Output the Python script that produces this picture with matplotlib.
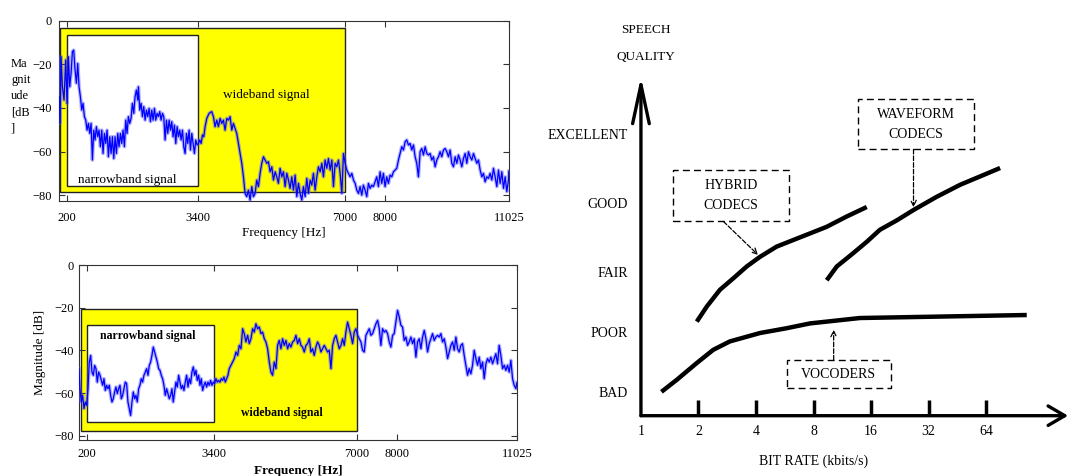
import matplotlib.pyplot as plt
from matplotlib.patches import Rectangle

plt.rcParams['font.family'] = ['Liberation Serif', 'DejaVu Serif']

# --- magnitude spectrum, upper plot (Hz, dB) ---
freq_top = [5, 29, 54, 87, 127, 168, 201, 235, 266, 299, 332, 364, 397, 430, 462, 495, 528, 561, 593, 626,
            659, 691, 724, 757, 789, 822, 855, 887, 920, 953, 985, 1018, 1051, 1083, 1116, 1149, 1181, 1214, 1247, 1279,
            1312, 1345, 1377, 1410, 1443, 1475, 1508, 1541, 1573, 1606, 1639, 1671, 1704, 1737, 1769, 1802, 1835, 1867, 1900, 1933,
            1949, 1982, 2015, 2047, 2080, 2113, 2146, 2178, 2211, 2244, 2276, 2309, 2342, 2374, 2407, 2440, 2472, 2505, 2538, 2570,
            2603, 2636, 2668, 2701, 2734, 2766, 2799, 2832, 2864, 2897, 2930, 2962, 2995, 3028, 3060, 3093, 3126, 3158, 3191, 3224,
            3256, 3289, 3322, 3354, 3387, 3420, 3452, 3485, 3518, 3550, 3583, 3624, 3681,
            3745, 3786, 3827, 3868, 3909, 3950, 3991, 4031, 4072, 4113, 4154, 4195, 4236, 4276, 4317, 4358, 4399, 4440, 4481, 4522,
            4562, 4603, 4644, 4685, 4726, 4767, 4808, 4848, 4889, 4930, 4971, 5012, 5053, 5093, 5134, 5175, 5216, 5257, 5298, 5339,
            5379, 5420, 5461, 5502, 5543, 5584, 5625, 5665, 5706, 5747, 5788, 5829, 5870, 5910, 5951, 5992, 6033, 6074, 6115, 6156,
            6196, 6237, 6278, 6319, 6360, 6401, 6442, 6482, 6523, 6564, 6605, 6646, 6687, 6727, 6768, 6809, 6850, 6891, 6932, 6973,
            7013, 7054, 7095, 7136, 7177, 7218, 7259, 7299, 7340,
            7380, 7420, 7461, 7502, 7543, 7584, 7625, 7666, 7706, 7747, 7788, 7829, 7870, 7911, 7951, 7992, 8033, 8074, 8115, 8156,
            8197, 8237, 8278, 8319, 8360, 8401, 8442, 8483, 8523, 8564, 8605, 8646, 8687, 8728, 8768, 8809, 8850, 8891, 8932, 8973,
            9014, 9054, 9095, 9136, 9177, 9218, 9259, 9300, 9340, 9381, 9422, 9463, 9504, 9545, 9585, 9626, 9667, 9708, 9749, 9790,
            9831, 9871, 9912, 9953, 9994, 10035, 10076, 10117, 10157, 10198, 10239, 10280, 10321, 10362, 10402, 10443, 10484, 10525, 10566, 10607,
            10647, 10688, 10729, 10770, 10811, 10852, 10893, 10933, 10974, 11015, 11025]
mag_top = [-34.9, -47.1, -16.5, -30.3, -36.4, -18.0, -37.9, -16.5, -30.3, -24.2, -14.2, -13.5, -22.6, -28.7, -19.6, -30.3, -34.9, -41.0, -37.9, -44.0,
           -45.6, -50.2, -47.1, -51.7, -47.1, -63.9, -50.2, -54.7, -48.6, -53.2, -50.2, -57.8, -50.2, -60.9, -51.7, -56.3, -50.2, -62.4, -53.2, -60.9,
           -53.2, -63.2, -53.2, -60.9, -51.7, -57.8, -51.7, -56.3, -50.2, -57.8, -45.6, -51.7, -44.0, -47.1, -44.8, -37.9, -42.5, -34.9, -31.8, -36.4,
           -30.3, -41.0, -37.9, -44.0, -39.4, -45.6, -41.0, -44.0, -40.2, -46.3, -41.0, -45.6, -40.2, -45.6, -42.5, -44.0, -41.7, -45.6, -42.5, -44.0,
           -54.7, -45.6, -51.7, -45.6, -50.2, -46.3, -53.2, -47.9, -56.3, -48.6, -53.2, -50.2, -54.7, -50.2, -57.8, -60.9, -51.7, -56.3, -50.2, -59.3,
           -51.7, -56.3, -60.9, -54.7, -57.0, -56.3, -54.7, -56.3, -52.4, -53.2, -48.6, -44.8, -42.5,
           -41.7, -44.0, -48.6, -45.6, -48.6, -44.8, -47.1, -45.6, -50.2, -44.8, -45.6, -44.0, -50.2, -47.1, -49.4, -51.7, -56.3, -60.9, -65.4, -71.6,
           -79.2, -80.7, -77.7, -82.3, -76.1, -80.7, -79.2, -73.1, -76.1, -70.0, -65.4, -62.4, -63.9, -65.4, -64.7, -69.3, -67.0, -73.1, -69.3, -71.6,
           -74.6, -67.7, -71.6, -69.3, -76.1, -70.0, -73.1, -76.9, -71.6, -77.7, -70.8, -80.7, -74.6, -79.2, -82.3, -76.1, -80.7, -72.3, -79.2, -73.1,
           -75.4, -70.0, -77.7, -71.6, -67.0, -69.3, -65.4, -71.6, -63.9, -67.7, -63.2, -68.5, -63.9, -76.1, -65.4, -67.0, -63.9, -70.0, -79.2, -60.9,
           -65.4, -68.5, -70.0, -71.6, -70.0, -73.1, -74.6, -77.7, -79.2,
           -76.1, -80.0, -75.4, -77.7, -80.7, -74.6, -76.9, -75.4, -76.1, -73.9, -71.6, -76.1, -69.3, -74.6, -70.0, -76.1, -71.6, -74.6, -70.8, -71.6,
           -69.3, -68.5, -67.7, -63.9, -60.9, -57.8, -59.3, -55.5, -54.7, -57.0, -56.3, -59.3, -57.0, -62.4, -65.4, -71.6, -60.1, -58.6, -61.6, -57.8,
           -60.9, -61.6, -60.9, -63.9, -62.4, -67.0, -63.9, -62.4, -60.1, -62.4, -59.3, -58.6, -60.1, -62.4, -59.3, -65.4, -67.0, -62.4, -65.4, -61.6,
           -63.9, -67.0, -63.2, -60.9, -65.4, -60.1, -62.4, -63.9, -60.9, -63.2, -65.4, -63.9, -68.5, -71.6, -70.0, -73.9, -71.6, -72.3, -70.0, -73.1,
           -67.7, -71.6, -76.1, -68.5, -74.6, -69.3, -76.9, -71.6, -78.4, -73.1, -69.0]

# --- magnitude spectrum, lower plot (Hz, dB) ---
freq_bot = [0, 25, 59, 92, 126, 159, 193, 227, 260, 294, 327, 361, 394, 428, 461, 495, 529, 562, 596, 629,
            663, 696, 730, 763, 797, 831, 864, 898, 931, 965, 998, 1032, 1066, 1099, 1133, 1166, 1200, 1233, 1267, 1300,
            1334, 1368, 1401, 1435, 1468, 1502, 1535, 1569, 1602, 1636, 1670, 1703, 1737, 1770, 1804, 1837, 1871, 1905, 1938, 1972,
            2005, 2039, 2072, 2106, 2139, 2173, 2207, 2240, 2274, 2307, 2341, 2374, 2408, 2441, 2475, 2509, 2542, 2576, 2609, 2643,
            2676, 2710, 2744, 2777, 2811, 2844, 2878, 2911, 2945, 2978, 3012, 3046, 3079, 3113, 3146, 3180, 3213, 3247, 3280, 3314,
            3348, 3381, 3415, 3448, 3482, 3515, 3549, 3583, 3616, 3650, 3683, 3717, 3750, 3784,
            3826, 3868, 3910, 3952, 3994, 4036, 4078, 4120, 4161, 4203, 4245, 4287, 4329, 4371, 4413, 4455, 4497, 4539, 4581, 4623,
            4665, 4707, 4749, 4791, 4833, 4875, 4917, 4959, 5000, 5042, 5084, 5126, 5168, 5210, 5252, 5294, 5336, 5378, 5420, 5462,
            5504, 5546, 5588, 5630, 5672, 5714, 5756, 5798, 5839, 5881, 5923, 5965, 6007, 6049, 6091, 6133, 6175, 6217, 6259, 6301,
            6343, 6385, 6427, 6469, 6511, 6553, 6595, 6637, 6678, 6720, 6762, 6804, 6846, 6888, 6930, 6972, 7014, 7056, 7098, 7140,
            7182, 7224, 7266, 7308, 7350, 7392, 7434, 7476, 7518, 7560,
            7601, 7643, 7685, 7727, 7769, 7811, 7853, 7895, 7936, 7978, 8020, 8062, 8104, 8146, 8188, 8230, 8272, 8314, 8356, 8398,
            8440, 8482, 8524, 8566, 8608, 8650, 8692, 8734, 8775, 8817, 8859, 8901, 8943, 8985, 9027, 9069, 9111, 9153, 9195, 9237,
            9279, 9321, 9363, 9405, 9447, 9489, 9531, 9573, 9614, 9656, 9698, 9740, 9782, 9824, 9866, 9908, 9950, 9992, 10034, 10076,
            10118, 10160, 10202, 10244, 10286, 10328, 10370, 10412, 10453, 10495, 10537, 10579, 10621, 10663, 10705, 10747, 10789, 10831, 10873, 10915,
            10957, 10999, 11025]
mag_bot = [-48.5, -57.9, -64.1, -61.0, -67.2, -64.1, -65.7, -57.9, -45.4, -42.3, -50.1, -51.6, -47.0, -48.5, -54.8, -50.1, -51.6, -54.0, -56.3, -53.2,
           -58.7, -56.3, -57.9, -56.3, -61.0, -64.1, -62.6, -59.4, -57.1, -60.2, -57.9, -56.3, -62.6, -61.0, -57.9, -54.8, -55.5, -64.1, -67.2, -70.4,
           -64.1, -59.4, -62.6, -61.0, -64.1, -57.9, -56.3, -53.2, -54.8, -51.6, -50.1, -48.5, -51.6, -47.0, -45.4, -42.3, -38.4, -40.7, -43.1, -45.4,
           -48.5, -49.3, -51.6, -53.2, -56.3, -61.0, -57.9, -60.2, -62.6, -61.0, -57.9, -64.1, -59.4, -54.8, -57.1, -51.6, -54.8, -57.9, -56.3, -58.7,
           -54.8, -51.6, -57.1, -53.2, -55.5, -50.1, -47.7, -51.6, -49.3, -54.0, -51.6, -56.3, -53.2, -58.7, -56.3, -54.8, -57.1, -54.8, -56.3, -54.0,
           -56.3, -54.8, -55.5, -53.2, -54.8, -54.0, -54.8, -53.2, -54.0, -52.4, -54.8, -53.2, -51.6, -48.5,
           -46.9, -45.4, -43.8, -40.7, -42.3, -37.6, -39.2, -29.8, -32.1, -36.0, -32.9, -36.8, -34.5, -29.8, -31.4, -27.5, -29.8, -29.0, -32.1, -31.4,
           -34.5, -36.0, -39.2, -45.4, -50.1, -51.6, -45.4, -48.5, -37.6, -35.3, -39.2, -34.5, -37.6, -35.3, -39.2, -36.8, -38.4, -36.0, -35.3, -32.9,
           -36.8, -34.5, -37.6, -38.4, -40.7, -37.6, -36.8, -34.5, -40.7, -39.2, -42.3, -38.4, -36.0, -37.6, -40.7, -39.2, -37.6, -39.2, -40.7, -39.9,
           -48.5, -37.6, -34.5, -32.9, -36.0, -39.2, -37.6, -34.5, -37.6, -31.4, -26.7, -29.8, -32.9, -36.8, -31.4, -29.8, -32.9, -34.5, -36.0, -39.9,
           -40.7, -32.9, -31.4, -29.8, -32.9, -32.1, -29.8, -27.5, -25.9, -29.8,
           -37.6, -29.8, -31.4, -30.6, -32.1, -36.0, -38.4, -32.9, -32.1, -26.7, -21.2, -24.3, -28.2, -29.0, -35.3, -33.7, -37.6, -36.0, -33.7, -36.8,
           -34.5, -43.1, -36.0, -34.5, -39.2, -33.7, -30.6, -34.5, -40.7, -36.8, -34.5, -32.1, -35.3, -33.7, -32.9, -33.7, -32.1, -36.0, -34.5, -38.4,
           -43.8, -40.7, -37.6, -36.0, -39.9, -33.7, -39.2, -40.7, -37.6, -36.8, -42.3, -46.9, -51.6, -48.5, -50.9, -46.9, -39.9, -43.8, -46.9, -43.1,
           -48.5, -45.4, -53.2, -46.2, -43.8, -45.4, -43.1, -46.2, -43.8, -41.5, -46.2, -37.6, -42.3, -48.5, -46.9, -49.3, -46.9, -50.1, -44.6, -53.2,
           -56.3, -57.9, -55.0]

freq_ticks = [200, 3400, 7000, 8000, 11025]
mag_ticks = [0, -20, -40, -60, -80]

# --- speech quality vs bit rate (kbit/s, quality score) ---
rate_ticks = [1, 2, 4, 8, 16, 32, 64]
quality_labels = ['BAD', 'POOR', 'FAIR', 'GOOD', 'EXCELLENT']
quality_pos = [1, 2, 3, 4.15, 5.3]

hybrid_rate = [1.96, 2.21, 2.59, 3.04, 3.58, 4.2, 5.13, 6.27, 7.67, 9.38, 11.9, 15.2]
hybrid_q = [2.19, 2.44, 2.72, 2.91, 3.11, 3.27, 3.44, 3.55, 3.66, 3.77, 3.94, 4.1]
waveform_rate = [9.38, 10.6, 12.9, 15.2, 17.8, 21.9, 26.7, 35.3, 46.8, 59.6, 75.8]
waveform_q = [2.88, 3.11, 3.33, 3.52, 3.72, 3.88, 4.05, 4.27, 4.47, 4.61, 4.75]
vocoder_rate = [1.28, 1.54, 1.96, 2.39, 2.92, 4.2, 5.79, 7.67, 14.0, 31.3, 104.5]
vocoder_q = [1.02, 1.22, 1.5, 1.72, 1.86, 2.0, 2.08, 2.16, 2.25, 2.27, 2.3]

blue = '#0000ff'
edge = '#333333'


def spectrum_axes(ax, freq, mag, ylo, wide_box, narrow_box):
    # yellow = wideband range, white = telephone band
    x0, x1, y0, y1 = wide_box
    ax.add_patch(Rectangle((x0, y0), x1 - x0, y1 - y0, fc='#ffff00', ec='#222222', lw=1.0, zorder=1))
    x0, x1, y0, y1 = narrow_box
    ax.add_patch(Rectangle((x0, y0), x1 - x0, y1 - y0, fc='white', ec='#222222', lw=1.0, zorder=2))
    ax.plot(freq, mag, color='#5555ff', lw=2.6, alpha=0.45, zorder=3)
    ax.plot(freq, mag, color=blue, lw=0.9, zorder=4)
    ax.set_xlim(0, 11025)
    ax.set_ylim(ylo, 0)
    ax.set_xticks(freq_ticks)
    ax.set_yticks(mag_ticks)
    ax.tick_params(direction='in', top=True, right=True, length=4, width=0.8,
                   color=edge, labelsize=9)
    for s in ax.spines.values():
        s.set_color(edge)
        s.set_linewidth(0.8)


fig = plt.figure(figsize=(10.7, 4.76), dpi=100)

# upper spectrum
ax1 = fig.add_axes([0.0550, 0.5777, 0.4206, 0.3788])
spectrum_axes(ax1, freq_top, mag_top, -82.7, (30, 7000, -78.6, -3.3), (200, 3400, -75.8, -6.6))
ax1.tick_params(axis='x', pad=8)
ax1.tick_params(axis='y', pad=5)
ax1.text(5076, -34.1, 'wideband signal', ha='center', va='center', fontsize=9.5, zorder=5)
ax1.text(1683, -73.1, 'narrowband signal', ha='center', va='center', fontsize=9.5, zorder=5)
ax1.set_xlabel('Frequency [Hz]', fontsize=9.5, labelpad=2)
fig.text(11 / 1070, 1 - 96 / 476, 'Ma\ngnit\nude\n[dB\n]', ha='left', va='center',
         fontsize=9, linespacing=1.45)

# lower spectrum
ax2 = fig.add_axes([0.0738, 0.0756, 0.4093, 0.3676])
spectrum_axes(ax2, freq_bot, mag_bot, -81.9, (50, 7000, -77.5, -20.6), (200, 3400, -73.5, -28.2))
ax2.tick_params(axis='x', pad=6)
ax2.tick_params(axis='y', pad=4)
ax2.text(1724, -33.2, 'narrowband signal', ha='center', va='center', fontsize=8.5,
         fontweight='bold', zorder=5)
ax2.text(5097, -69.2, 'wideband signal', ha='center', va='center', fontsize=8.5,
         fontweight='bold', zorder=5)
ax2.set_xlabel('Frequency [Hz]', fontsize=9.5, labelpad=3, fontweight='bold')
fig.text(40 / 1070, 1 - 352 / 476, 'Magnitude [dB]', rotation=90, ha='center', va='center',
         fontsize=9.5)

# quality / bit-rate sketch
ax3 = fig.add_axes([560 / 1070, 0, 510 / 1070, 1])
ax3.set_xscale('log', base=2)
ax3.set_xlim(0.377, 176)
ax3.set_ylim(-0.383, 7.55)
ax3.axis('off')

q0 = 0.622
ax3.annotate('', xy=(1, 6.27), xytext=(1, q0),
             arrowprops=dict(arrowstyle='->,head_length=1.4,head_width=0.3', lw=2.4,
                             color='black', mutation_scale=20, shrinkA=0, shrinkB=0))
ax3.annotate('', xy=(172, q0), xytext=(1, q0),
             arrowprops=dict(arrowstyle='->,head_length=0.6,head_width=0.35', lw=2.4,
                             color='black', mutation_scale=20, shrinkA=0, shrinkB=0))
ax3.vlines(rate_ticks[1:], q0, 0.883, color='black', lw=2.5)
for r in rate_ticks:
    ax3.text(r, 0.355, str(r), ha='center', va='center', fontsize=10)
for lab, q in zip(quality_labels, quality_pos):
    ax3.text(0.855, q, lab, ha='right', va='center', fontsize=10)
ax3.text(1.06, 7.05, 'SPEECH', ha='center', va='center', fontsize=9.5)
ax3.text(1.06, 6.6, 'QUALITY', ha='center', va='center', fontsize=9.5)
ax3.text(8, -0.145, 'BIT RATE (kbits/s)', ha='center', va='center', fontsize=10)

for r, q in [(hybrid_rate, hybrid_q), (waveform_rate, waveform_q), (vocoder_rate, vocoder_q)]:
    ax3.plot(r, q, color='black', lw=3.2, solid_capstyle='butt', solid_joinstyle='round')

# dashed label boxes with pointers onto the curves
boxes = [(1.476, 5.98, 3.86, 4.72, 'HYBRID\nCODECS'),
         (13.7, 55.6, 5.06, 5.9, 'WAVEFORM\nCODECS'),
         (5.79, 20.3, 1.08, 1.55, 'VOCODERS')]
for x0, x1, y0, y1, lab in boxes:
    ax3.add_patch(Rectangle((x0, y0), x1 - x0, y1 - y0, fill=False, ec='black',
                            lw=1.0, ls=(0, (5, 3))))
    ax3.text((x0 * x1) ** 0.5, (y0 + y1) / 2, lab, ha='center', va='center',
             fontsize=10, linespacing=1.7)

pointer = dict(arrowstyle='->,head_length=0.4,head_width=0.2', lw=0.9, ls='--',
               color='black', shrinkA=0, shrinkB=2)
ax3.annotate('', xy=(hybrid_rate[5], hybrid_q[5]), xytext=(2.70, 3.86), arrowprops=pointer)
ax3.annotate('', xy=(waveform_rate[6], waveform_q[6]), xytext=(waveform_rate[6], 5.06), arrowprops=pointer)
ax3.annotate('', xy=(10.2, 2.1), xytext=(10.2, 1.55), arrowprops=pointer)

fig.savefig('out.png', dpi=100)
